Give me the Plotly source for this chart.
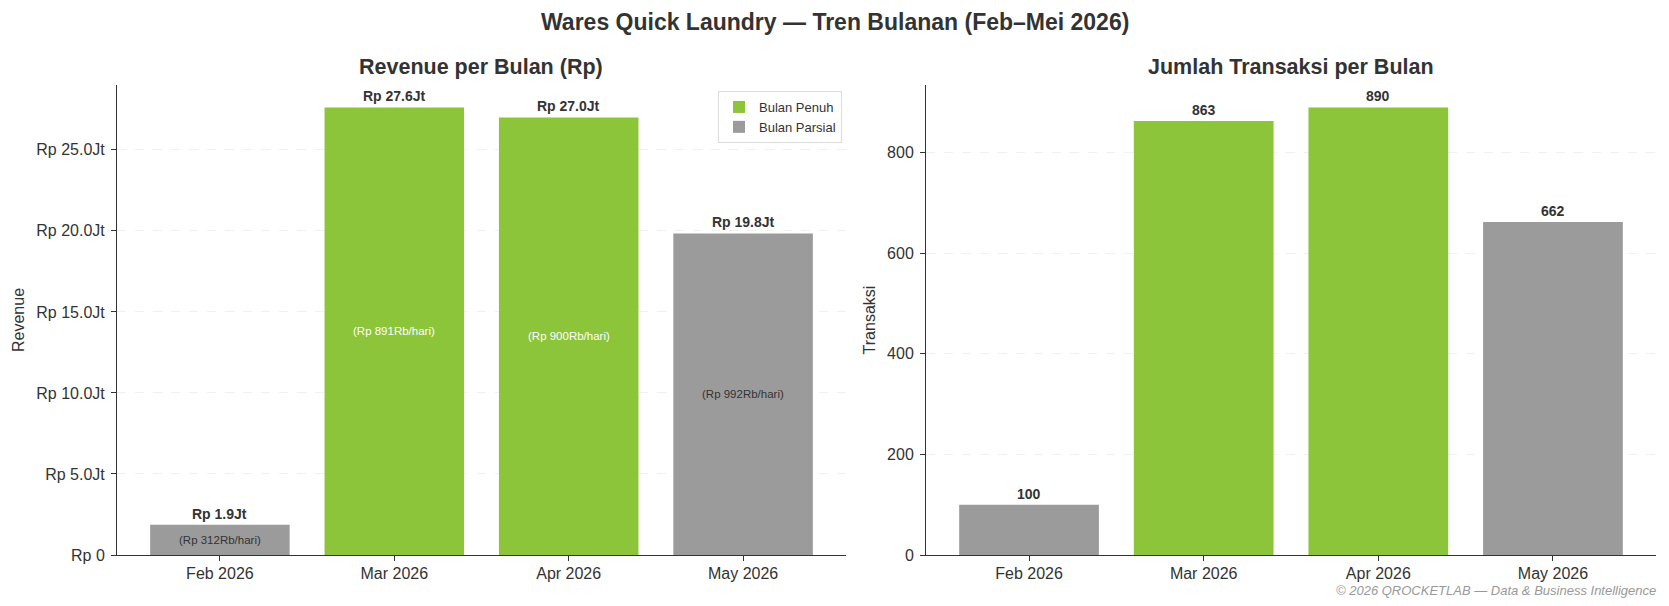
import plotly.graph_objects as go

months = ["Feb 2026", "Mar 2026", "Apr 2026", "May 2026"]
revenue = [1872000, 27621000, 27000000, 19840000]
revenue_labels = ["Rp 1.9Jt", "Rp 27.6Jt", "Rp 27.0Jt", "Rp 19.8Jt"]
per_day_labels = ["(Rp 312Rb/hari)", "(Rp 891Rb/hari)", "(Rp 900Rb/hari)", "(Rp 992Rb/hari)"]
transactions = [100, 863, 890, 662]
is_full = [False, True, True, False]
rev_ticks = [0, 5e6, 10e6, 15e6, 20e6, 25e6]
rev_tick_text = ["Rp 0", "Rp 5.0Jt", "Rp 10.0Jt", "Rp 15.0Jt", "Rp 20.0Jt", "Rp 25.0Jt"]
trx_ticks = [0, 200, 400, 600, 800]

GREEN = "#8CC43A"
GRAY = "#9B9B9B"
DARK = "#333333"
FONT = "Liberation Sans, Arial, sans-serif"

W, H = 1669, 606
def px_x(v):
    return v / W
def px_y(v):
    return 1 - v / H

fig = go.Figure()

groups = [("Bulan Penuh", True, GREEN), ("Bulan Parsial", False, GRAY)]
for name, flag, color in groups:
    xs = [m for m, f in zip(months, is_full) if f == flag]
    ys = [v for v, f in zip(revenue, is_full) if f == flag]
    fig.add_trace(go.Bar(x=xs, y=ys, name=name, marker=dict(color=color, line=dict(width=0)),
                         width=0.8, xaxis="x", yaxis="y", showlegend=True, hoverinfo="skip"))
for name, flag, color in groups:
    xs = [m for m, f in zip(months, is_full) if f == flag]
    ys = [v for v, f in zip(transactions, is_full) if f == flag]
    fig.add_trace(go.Bar(x=xs, y=ys, name=name, marker=dict(color=color, line=dict(width=0)),
                         width=0.8, xaxis="x2", yaxis="y2", showlegend=False, hoverinfo="skip"))

ann = []
for m, v, lab, pdl, f in zip(months, revenue, revenue_labels, per_day_labels, is_full):
    ann.append(dict(x=m, y=v, xref="x", yref="y", text="<b>" + lab + "</b>", showarrow=False,
                    yanchor="bottom", yshift=1, font=dict(size=14, color=DARK, family=FONT)))
    ann.append(dict(x=m, y=v / 2, xref="x", yref="y", text=pdl, showarrow=False,
                    yanchor="middle", font=dict(size=11.5, color="white" if f else DARK, family=FONT)))
for m, v in zip(months, transactions):
    ann.append(dict(x=m, y=v, xref="x2", yref="y2", text="<b>" + str(v) + "</b>", showarrow=False,
                    yanchor="bottom", yshift=1, font=dict(size=14, color=DARK, family=FONT)))

x1 = [px_x(117), px_x(846)]
x2 = [px_x(926), px_x(1656)]
yd = [px_y(555), px_y(85)]

ann.append(dict(x=0.5, y=px_y(22), xref="paper", yref="paper", text="<b>Wares Quick Laundry — Tren Bulanan (Feb–Mei 2026)</b>",
                showarrow=False, xanchor="center", yanchor="middle", font=dict(size=23, color=DARK, family=FONT)))
ann.append(dict(x=(x1[0] + x1[1]) / 2, y=px_y(67), xref="paper", yref="paper", text="<b>Revenue per Bulan (Rp)</b>",
                showarrow=False, xanchor="center", yanchor="middle", font=dict(size=21.5, color=DARK, family=FONT)))
ann.append(dict(x=(x2[0] + x2[1]) / 2, y=px_y(67), xref="paper", yref="paper", text="<b>Jumlah Transaksi per Bulan</b>",
                showarrow=False, xanchor="center", yanchor="middle", font=dict(size=21.5, color=DARK, family=FONT)))
ann.append(dict(x=px_x(1658), y=px_y(590), xref="paper", yref="paper", text="<i>© 2026 QROCKETLAB — Data & Business Intelligence</i>",
                showarrow=False, xanchor="right", yanchor="middle", font=dict(size=13, color="#999999", family=FONT)))

axis_common = dict(showline=True, linecolor=DARK, linewidth=1, ticks="outside", ticklen=5, tickcolor=DARK,
                   tickfont=dict(size=16, color=DARK, family=FONT), zeroline=False, automargin=False)
grid = dict(showgrid=True, gridcolor="rgba(228,228,228,0.55)", griddash="dash", gridwidth=1, layer="above traces")

fig.update_layout(
    width=W, height=H, margin=dict(l=0, r=0, t=0, b=0),
    paper_bgcolor="white", plot_bgcolor="white",
    barmode="overlay", bargap=0.2,
    font=dict(family=FONT, color=DARK),
    annotations=ann,
    xaxis=dict(domain=x1, anchor="y", type="category", categoryorder="array", categoryarray=months,
               range=[-0.59, 3.59], showgrid=False, ticklabelstandoff=-1, **axis_common),
    yaxis=dict(domain=yd, anchor="x", range=[0, max(revenue) * 1.05], tickvals=rev_ticks, ticktext=rev_tick_text,
               title=dict(text="Revenue", font=dict(size=16, color=DARK, family=FONT), standoff=7),
               ticklabelstandoff=3, **grid, **axis_common),
    xaxis2=dict(domain=x2, anchor="y2", type="category", categoryorder="array", categoryarray=months,
                range=[-0.59, 3.59], showgrid=False, ticklabelstandoff=-1, **axis_common),
    yaxis2=dict(domain=yd, anchor="x2", range=[0, max(transactions) * 1.05], tickvals=trx_ticks,
                title=dict(text="Transaksi", font=dict(size=16, color=DARK, family=FONT), standoff=7),
                ticklabelstandoff=3, **grid, **axis_common),
    legend=dict(x=px_x(842), y=px_y(91), xanchor="right", yanchor="top", bgcolor="white",
                bordercolor="#DDDDDD", borderwidth=1, font=dict(size=13, color=DARK, family=FONT),
                tracegroupgap=0, itemwidth=30),
)

fig.write_html("out.html")
